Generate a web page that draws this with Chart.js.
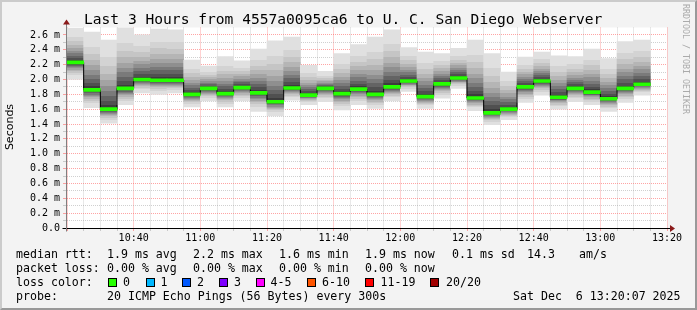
<!DOCTYPE html>
<html><head><meta charset="utf-8">
<script src="https://cdn.jsdelivr.net/npm/chart.js@4/dist/chart.umd.min.js"></script>
<style>
html,body{margin:0;padding:0;background:#f3f3f3;}
#wrap{position:relative;width:697px;height:310px;background:#f3f3f3;overflow:hidden;font-family:'DejaVu Sans Mono',monospace;}
#c{position:absolute;left:0;top:0;}
.t{position:absolute;white-space:pre;font-size:11.6px;line-height:14px;color:#000;}
.box{position:absolute;width:7px;height:7px;border:1px solid #000;}
#title{position:absolute;left:84px;top:10px;font-size:14.6px;line-height:18px;white-space:pre;color:#000;}
#ylab{position:absolute;left:-20px;top:120px;width:60px;text-align:center;font-family:'DejaVu Sans',sans-serif;font-size:11px;line-height:14px;transform:rotate(-90deg);}
#wm{position:absolute;left:681px;top:4px;writing-mode:vertical-rl;font-size:8.3px;color:#aaa;white-space:pre;}
#frame{position:absolute;left:0;top:0;width:697px;height:310px;box-sizing:border-box;border-top:2px solid #cbcbcb;border-left:2px solid #cbcbcb;border-right:2px solid #999;border-bottom:2px solid #999;pointer-events:none;}
</style></head>
<body>
<div id="wrap">
<canvas id="c" width="697" height="310"></canvas>
<div id="title">Last 3 Hours from 4557a0095ca6 to U. C. San Diego Webserver</div>
<div id="ylab">Seconds</div>
<div id="wm">RRDTOOL / TOBI OETIKER</div>
<div id="legend"></div>
<div id="frame"></div>
</div>
<script>
// ---- data ----
const slotStarts = ['10:20','10:25','10:30','10:35','10:40','10:45','10:50','10:55','11:00','11:05','11:10','11:15',
  '11:20','11:25','11:30','11:35','11:40','11:45','11:50','11:55','12:00','12:05','12:10','12:15',
  '12:20','12:25','12:30','12:35','12:40','12:45','12:50','12:55','13:00','13:05','13:10'];
const medianRtt = [2.23,1.86,1.60,1.88,2.00,1.99,1.99,1.80,1.88,1.81,1.89,1.82,
  1.70,1.885,1.79,1.88,1.81,1.87,1.80,1.90,1.98,1.77,1.94,2.02,
  1.75,1.55,1.60,1.90,1.98,1.76,1.88,1.83,1.74,1.88,1.935];
const smokeMax = [2.69,2.64,2.53,2.70,2.60,2.68,2.67,2.26,2.18,2.31,2.25,2.41,
  2.52,2.57,2.19,2.11,2.35,2.47,2.57,2.67,2.43,2.37,2.35,2.42,
  2.53,2.35,2.10,2.30,2.37,2.32,2.31,2.41,2.28,2.51,2.53];
const smokeMin = [2.00,1.62,1.41,1.66,1.82,1.80,1.82,1.63,1.71,1.63,1.71,1.57,
  1.51,1.72,1.66,1.70,1.59,1.66,1.61,1.71,1.84,1.61,1.75,1.88,
  1.58,1.39,1.46,1.69,1.79,1.60,1.70,1.66,1.57,1.69,1.79];
const xTickLabels = ['10:40','11:00','11:20','11:40','12:00','12:20','12:40','13:00','13:20'];
const yTickLabels = ['0.0','0.2 m','0.4 m','0.6 m','0.8 m','1.0 m','1.2 m','1.4 m','1.6 m','1.8 m','2.0 m','2.2 m','2.4 m','2.6 m'];
const lossLabels = ['0','1','2','3','4-5','6-10','11-19','20/20'];
const lossColors = ['#26ff00','#00b8ff','#0059ff','#7e00ff','#ff00ff','#ff5500','#ff0000','#a10000'];
const legendLines = [
  [['median rtt:',16],['1.9 ms avg',107],['2.2 ms max',193],['1.6 ms min',279],['1.9 ms now',365],['0.1 ms sd',452],['14.3',527],['am/s',579]],
  [['packet loss:',16],['0.00 % avg',107],['0.00 % max',193],['0.00 % min',279],['0.00 % now',365]],
  [['loss color:',16]],
  [['probe:',16],['20 ICMP Echo Pings (56 Bytes) every 300s',107],['Sat Dec  6 13:20:07 2025',513]]
];
const startTime = '10:20';

// ---- legend text ----
const lineY = [254,268,282,296];
const legend = document.getElementById('legend');
legendLines.forEach((line, li) => {
  line.forEach(([txt, x]) => {
    const d = document.createElement('div');
    d.className = 't'; d.textContent = txt;
    d.style.left = x + 'px'; d.style.top = (lineY[li] - 7) + 'px';
    legend.appendChild(d);
  });
});
const boxX = [108,146,182,219,256,307,365,430];
const labX = [123,160.5,197,234,270.5,322,380.5,446];
lossLabels.forEach((lab, i) => {
  const b = document.createElement('div');
  b.className = 'box'; b.style.background = lossColors[i];
  b.style.left = boxX[i] + 'px'; b.style.top = (lineY[2] - 4.5) + 'px';
  legend.appendChild(b);
  const d = document.createElement('div');
  d.className = 't'; d.textContent = lab;
  d.style.left = labX[i] + 'px'; d.style.top = (lineY[2] - 7) + 'px';
  legend.appendChild(d);
});

// ---- chart ----
const toMin = s => { const [h, m] = s.split(':').map(Number); return h * 60 + m; };
const t0 = toMin(startTime);
const centers = slotStarts.map(s => toMin(s) - t0 + 2.5);

const bandColors = ['#e0e0e0','#d3d3d3','#c5c5c5','#b5b5b5','#a3a3a3','#8f8f8f','#7a7a7a','#646464','#505050','#3c3c3c'];
const bandPos = Array.from({length: 11}, (_, k) => Math.pow(k / 10, 0.6));

function smokeFill(ctx) {
  const chart = ctx.chart;
  const ys = chart.scales.y;
  const i = ctx.dataIndex;
  if (!ys || i === undefined) return '#cccccc';
  const top = ys.getPixelForValue(smokeMax[i]);
  const bot = ys.getPixelForValue(smokeMin[i]);
  const med = ys.getPixelForValue(medianRtt[i]);
  if (!isFinite(top) || !isFinite(bot) || bot - top < 1) return '#cccccc';
  const g = chart.ctx.createLinearGradient(0, top, 0, bot);
  const mf = (med - top) / (bot - top);
  const cl = v => Math.min(1, Math.max(0, v));
  for (let k = 0; k < 10; k++) {
    g.addColorStop(cl(bandPos[k] * mf), bandColors[k]);
    g.addColorStop(cl(bandPos[k + 1] * mf), bandColors[k]);
  }
  for (let k = 9; k >= 0; k--) {
    g.addColorStop(cl(mf + (1 - mf) * (1 - bandPos[k + 1])), bandColors[k]);
    g.addColorStop(cl(mf + (1 - mf) * (1 - bandPos[k])), bandColors[k]);
  }
  return g;
}

const rrdDecor = {
  id: 'rrdDecor',
  beforeDraw(chart) {
    const {ctx, chartArea: a} = chart;
    ctx.save();
    ctx.fillStyle = '#ffffff';
    ctx.fillRect(a.left, a.top, a.right - a.left, a.bottom - a.top);
    ctx.restore();
  },
  afterDraw(chart) {
    const {ctx, chartArea: a} = chart;
    const x0 = Math.round(a.left) - 0.5, yb = Math.round(a.bottom) + 0.5;
    ctx.save();
    ctx.lineWidth = 1;
    ctx.strokeStyle = '#000000';
    ctx.beginPath(); ctx.moveTo(x0 - 4, yb); ctx.lineTo(a.right + 4, yb); ctx.stroke();
    ctx.strokeStyle = '#7f7f7f';
    ctx.beginPath(); ctx.moveTo(x0, a.top - 4); ctx.lineTo(x0, yb + 3); ctx.stroke();
    ctx.fillStyle = '#8b1a1a';
    ctx.beginPath(); ctx.moveTo(x0, a.top - 8); ctx.lineTo(x0 - 3.5, a.top - 3); ctx.lineTo(x0 + 3.5, a.top - 3); ctx.closePath(); ctx.fill();
    ctx.beginPath(); ctx.moveTo(a.right + 8, yb); ctx.lineTo(a.right + 3, yb - 3.5); ctx.lineTo(a.right + 3, yb + 3.5); ctx.closePath(); ctx.fill();
    ctx.restore();
  }
};

const majorRed = 'rgba(255,90,90,0.55)';
const minorGray = 'rgba(150,150,150,0.45)';

new Chart(document.getElementById('c'), {
  type: 'bar',
  data: {
    datasets: [
      {
        type: 'bar', order: 3, grouped: false,
        data: centers.map((x, i) => ({x, y: [smokeMin[i], smokeMax[i]]})),
        backgroundColor: smokeFill, borderWidth: 0,
        barPercentage: 1, categoryPercentage: 1
      },
      {
        type: 'line', order: 2,
        data: centers.map((x, i) => ({x, y: medianRtt[i]})),
        stepped: 'middle', borderColor: '#000000', borderWidth: 1,
        pointRadius: 0, fill: false
      },
      {
        type: 'bar', order: 1, grouped: false,
        data: centers.map((x, i) => ({x, y: [medianRtt[i] - 0.02, medianRtt[i] + 0.02]})),
        backgroundColor: lossColors[0], borderWidth: 0,
        barPercentage: 1, categoryPercentage: 1
      }
    ]
  },
  options: {
    responsive: false, animation: false,
    layout: {padding: {left: 0, right: 30, top: 27.5, bottom: 62}},
    plugins: {legend: {display: false}, tooltip: {enabled: false}, title: {display: false}},
    scales: {
      x: {
        type: 'linear', min: 0, max: 180, offset: false,
        afterFit: s => { s.height = 20; },
        border: {display: false, dash: [1, 1]},
        grid: {
          offset: false,
          color: c => (c.tick && Math.round(c.tick.value) % 20 === 0) ? majorRed : minorGray,
          tickColor: c => (c.tick && Math.round(c.tick.value) % 20 === 0) ? majorRed : minorGray,
          tickLength: 3, lineWidth: 1
        },
        ticks: {
          stepSize: 5, autoSkip: false, maxRotation: 0, padding: 1,
          font: {family: 'DejaVu Sans Mono', size: 10}, color: '#000',
          callback: v => { const m = Math.round(v); return (m % 20 === 0 && m > 0) ? xTickLabels[m / 20 - 1] : ''; }
        }
      },
      y: {
        type: 'linear', min: 0, max: 2.7,
        afterFit: s => { s.width = 67; },
        border: {display: false, dash: [1, 1]},
        grid: {
          color: c => { const v = Math.round(c.tick.value * 10); return v >= 27 ? 'rgba(0,0,0,0)' : (v % 2 === 0 ? majorRed : minorGray); },
          tickColor: c => { const v = Math.round(c.tick.value * 10); return v >= 27 ? 'rgba(0,0,0,0)' : (v % 2 === 0 ? majorRed : minorGray); },
          tickLength: 4, lineWidth: 1
        },
        ticks: {
          stepSize: 0.1, autoSkip: false, padding: 3,
          font: {family: 'DejaVu Sans Mono', size: 10}, color: '#000',
          callback: v => { const k = Math.round(v * 10); return (k % 2 === 0 && k <= 26) ? yTickLabels[k / 2] : ''; }
        }
      }
    }
  },
  plugins: [rrdDecor]
});
</script>
</body></html>
